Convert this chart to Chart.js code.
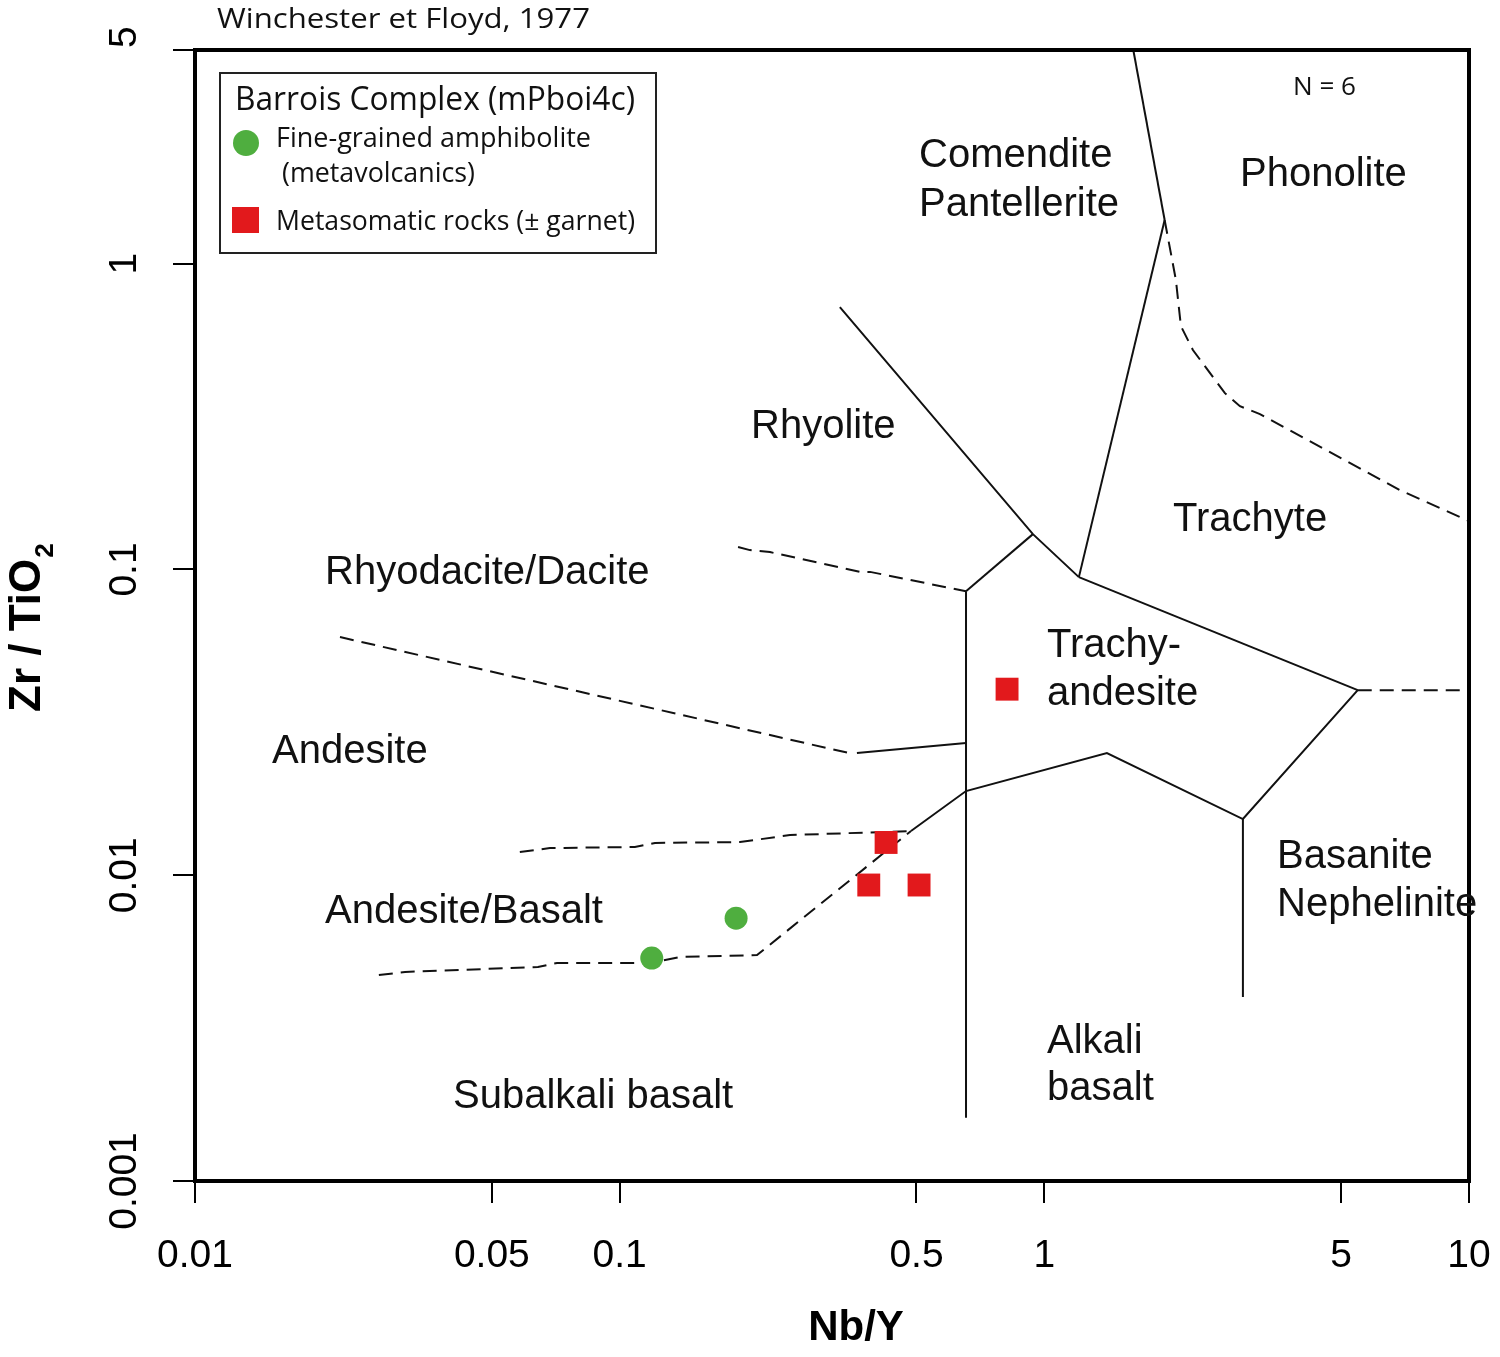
<!DOCTYPE html>
<html><head><meta charset="utf-8">
<script src="https://cdn.jsdelivr.net/npm/chart.js@4.4.1/dist/chart.umd.min.js"></script>
<style>html,body{margin:0;padding:0;background:#fff;}#wrap{width:1500px;height:1357px;}</style>
</head><body><div id="wrap"><canvas id="c" width="1500" height="1357"></canvas></div>
<script>
// ---------------- data ----------------
const xTickValues = [0.01, 0.05, 0.1, 0.5, 1, 5, 10];
const xTickLabels = ['0.01', '0.05', '0.1', '0.5', '1', '5', '10'];
const yTickValues = [0.001, 0.01, 0.1, 1, 5];
const yTickLabels = ['0.001', '0.01', '0.1', '1', '5'];

const amphiboliteNbY  = [0.119, 0.188];
const amphiboliteZrTi = [0.00536, 0.00724];
const metasomaticNbY  = [0.424, 0.386, 0.507, 0.817];
const metasomaticZrTi = [0.0128, 0.00929, 0.00929, 0.0406];

// field boundaries, points as [Nb/Y, Zr/TiO2]
const bComenditePhonolite     = [[1.62, 5], [1.92, 1.39]];
const bComenditeTrachyte      = [[1.92, 1.39], [1.206, 0.0944]];
const bRhyoliteComendite      = [[0.330, 0.721], [0.940, 0.1305], [1.206, 0.0944]];
const bRhyoliteTrachyandesite = [[0.654, 0.0849], [0.940, 0.1305]];
const bTrachyteTrachyandesite = [[1.206, 0.0944], [5.47, 0.0403]];
const bTrachyandesiteLower    = [[5.47, 0.0403], [2.935, 0.01527], [1.404, 0.0251], [0.654, 0.01885], [0.4853, 0.01395]];
const bSubalkaliAlkali        = [[0.654, 0.0849], [0.654, 0.00161]];
const bAlkaliBasanite         = [[2.935, 0.01527], [2.935, 0.0040]];
const bAndesiteTrachyandesite = [[0.362, 0.0251], [0.654, 0.02706]];
const dTrachyteBasanite   = [[5.47, 0.0403], [10, 0.0403]];
const dPhonoliteTrachyte  = [[1.92, 1.39], [2.041, 0.884], [2.097, 0.625], [2.238, 0.522], [2.662, 0.3773], [2.888, 0.342], [3.219, 0.3223], [6.876, 0.1818], [10, 0.144]];
const dRhyodaciteRhyolite = [[0.190, 0.1184], [0.2026, 0.1157], [0.2259, 0.1140], [0.368, 0.0982], [0.3886, 0.0982], [0.654, 0.0849]];
const dAndesiteRhyodacite = [[0.02195, 0.0601], [0.3466, 0.0251]];
const dAndesiteBasalt     = [[0.0582, 0.01191], [0.0685, 0.01227], [0.1086, 0.01237], [0.1211, 0.01275], [0.192, 0.01284], [0.2518, 0.01353], [0.4853, 0.01395]];
const dBasaltSubalkali    = [[0.0271, 0.004717], [0.03123, 0.004826], [0.0642, 0.005011], [0.0712, 0.005164], [0.1179, 0.005164], [0.1387, 0.005402], [0.2106, 0.005483], [0.4853, 0.01395]];

const fieldNames = ['Comendite', 'Pantellerite', 'Phonolite', 'Rhyolite', 'Trachyte', 'Rhyodacite/Dacite', 'Trachy-', 'andesite', 'Andesite', 'Basanite', 'Nephelinite', 'Andesite/Basalt', 'Alkali', 'basalt', 'Subalkali basalt'];
const sourceText = 'Winchester et Floyd, 1977';
const countText = 'N = 6';
const legendTitle = 'Barrois Complex (mPboi4c)';
const seriesNames = ['Fine-grained amphibolite\n(metavolcanics)', 'Metasomatic rocks (\u00b1 garnet)'];
const xTitle = 'Nb/Y';
const yTitleMain = 'Zr / TiO';
const yTitleSub = '2';

// ---------------- layout / style ----------------
const fieldLabelX = [919, 919, 1240, 751, 1173, 325, 1047, 1047, 272, 1277, 1277, 325, 1047, 1047, 453];
const fieldLabelY = [167, 216, 186, 438, 531, 584, 657, 705, 763, 868, 916, 923, 1053, 1100, 1108];
const GREEN = '#4fae3f';
const RED = '#e2191c';
const ARIAL = '"Liberation Sans", Arial, Helvetica, sans-serif';
const MYRIAD = '"Open Sans", "Noto Sans", sans-serif';

const toPts = a => a.map(p => ({x: p[0], y: p[1]}));
const solid = (name, a) => ({label: name, data: toPts(a), showLine: true, borderColor: '#111', borderWidth: 2,
  pointRadius: 0, pointHoverRadius: 0, fill: false, tension: 0, order: 1});
const dashed = (name, a) => Object.assign(solid(name, a), {borderDash: [14, 8]});

const datasets = [
  {label: seriesNames[0], data: amphiboliteNbY.map((x, i) => ({x, y: amphiboliteZrTi[i]})),
   pointStyle: 'circle', pointRadius: 11.5, pointHoverRadius: 11.5, backgroundColor: GREEN, borderColor: GREEN, borderWidth: 0, order: 0},
  {label: seriesNames[1], data: metasomaticNbY.map((x, i) => ({x, y: metasomaticZrTi[i]})),
   pointStyle: 'rect', pointRadius: 16.2, pointHoverRadius: 16.2, backgroundColor: RED, borderColor: RED, borderWidth: 0, order: 0},
  solid('b1', bComenditePhonolite), solid('b2', bComenditeTrachyte), solid('b3', bRhyoliteComendite),
  solid('b4', bRhyoliteTrachyandesite), solid('b5', bTrachyteTrachyandesite), solid('b6', bTrachyandesiteLower),
  solid('b7', bSubalkaliAlkali), solid('b8', bAlkaliBasanite), solid('b9', bAndesiteTrachyandesite),
  dashed('d1', dTrachyteBasanite), dashed('d2', dPhonoliteTrachyte), dashed('d3', dRhyodaciteRhyolite),
  dashed('d4', dAndesiteRhyodacite), dashed('d5', dAndesiteBasalt), dashed('d6', dBasaltSubalkali)
];

function textFit(ctx, text, x, y, size, family, targetW, weight) {
  ctx.font = (weight || '') + ' ' + size + 'px ' + family;
  const w = ctx.measureText(text).width;
  const sx = targetW ? targetW / w : 1;
  ctx.save(); ctx.translate(x, y); ctx.scale(sx, 1); ctx.fillText(text, 0, 0); ctx.restore();
}

const decor = {
  id: 'decor',
  afterDraw(chart) {
    const ctx = chart.ctx, ca = chart.chartArea;
    ctx.save();
    // frame
    ctx.strokeStyle = '#000'; ctx.lineWidth = 4;
    ctx.strokeRect(ca.left, ca.top, ca.right - ca.left, ca.bottom - ca.top);
    ctx.fillStyle = '#111'; ctx.textAlign = 'left'; ctx.textBaseline = 'alphabetic';
    // field labels
    ctx.font = '40px ' + ARIAL;
    fieldNames.forEach((t, i) => ctx.fillText(t, fieldLabelX[i], fieldLabelY[i]));
    // source and count
    textFit(ctx, sourceText, 217, 28, 28, MYRIAD, 373);
    textFit(ctx, countText, 1293, 95, 26, MYRIAD, 63);
    // y tick labels (rotated)
    const ys = chart.scales.y;
    ctx.font = '39px ' + ARIAL; ctx.fillStyle = '#000';
    yTickValues.forEach((v, i) => {
      const py = ys.getPixelForValue(v);
      const w = ctx.measureText(yTickLabels[i]).width;
      ctx.save(); ctx.translate(136, py); ctx.rotate(-Math.PI / 2);
      if (py - w / 2 < ca.top) { ctx.textAlign = 'left'; ctx.fillText(yTickLabels[i], 2, 0); }
      else { ctx.textAlign = 'center'; ctx.fillText(yTickLabels[i], 0, 0); }
      ctx.restore();
    });
    // axis titles
    ctx.textAlign = 'center'; ctx.font = 'bold 42px ' + ARIAL;
    ctx.fillText(xTitle, 856, 1340);
    ctx.save(); ctx.translate(40, 712); ctx.rotate(-Math.PI / 2); ctx.textAlign = 'left';
    ctx.font = 'bold 44px ' + ARIAL; ctx.fillText(yTitleMain, 0, 0);
    const tw = ctx.measureText(yTitleMain).width;
    ctx.font = 'bold 26px ' + ARIAL; ctx.fillText(yTitleSub, tw + 1, 13);
    ctx.restore();
    // legend
    ctx.textAlign = 'left';
    ctx.fillStyle = '#fff'; ctx.fillRect(220, 73, 436, 180);
    ctx.strokeStyle = '#222'; ctx.lineWidth = 2; ctx.strokeRect(220, 73, 436, 180);
    ctx.fillStyle = '#111';
    textFit(ctx, legendTitle, 235, 110, 33, MYRIAD, 400);
    const l0 = chart.data.datasets[0].label.split('\n');
    const l1 = chart.data.datasets[1].label;
    textFit(ctx, l0[0], 276, 147, 27, MYRIAD, 315);
    textFit(ctx, l0[1], 282, 182, 27, MYRIAD, 193);
    textFit(ctx, l1, 276, 230, 27, MYRIAD, 359);
    ctx.fillStyle = chart.data.datasets[0].backgroundColor;
    ctx.beginPath(); ctx.arc(246, 143, 13, 0, Math.PI * 2); ctx.fill();
    ctx.fillStyle = chart.data.datasets[1].backgroundColor;
    ctx.fillRect(232, 207, 27, 26);
    ctx.restore();
  }
};

new Chart(document.getElementById('c'), {
  type: 'scatter',
  data: {datasets},
  options: {
    responsive: false, animation: false, devicePixelRatio: 1, events: [],
    layout: {padding: {left: 0, right: 31, top: 50, bottom: 0}},
    plugins: {legend: {display: false}, tooltip: {enabled: false}},
    scales: {
      x: {
        type: 'logarithmic', position: 'bottom', min: 0.01, max: 10,
        afterBuildTicks: s => { s.ticks = xTickValues.map(v => ({value: v})); },
        afterFit: s => { s.height = 176; s.paddingLeft = 0; s.paddingRight = 0; },
        ticks: {autoSkip: false, maxRotation: 0, minRotation: 0, color: '#000', padding: 30,
          font: {family: ARIAL, size: 39},
          callback: v => xTickLabels[xTickValues.indexOf(v)]},
        grid: {drawOnChartArea: false, drawTicks: true, tickLength: 22, color: '#000', lineWidth: 2},
        border: {display: false}
      },
      y: {
        type: 'logarithmic', position: 'left', min: 0.001, max: 5,
        afterBuildTicks: s => { s.ticks = yTickValues.map(v => ({value: v})); },
        afterFit: s => { s.width = 195; s.paddingTop = 0; s.paddingBottom = 0; },
        ticks: {display: false},
        grid: {drawOnChartArea: false, drawTicks: true, tickLength: 22, color: '#000', lineWidth: 2},
        border: {display: false}
      }
    }
  },
  plugins: [decor]
});
</script>
</body></html>
